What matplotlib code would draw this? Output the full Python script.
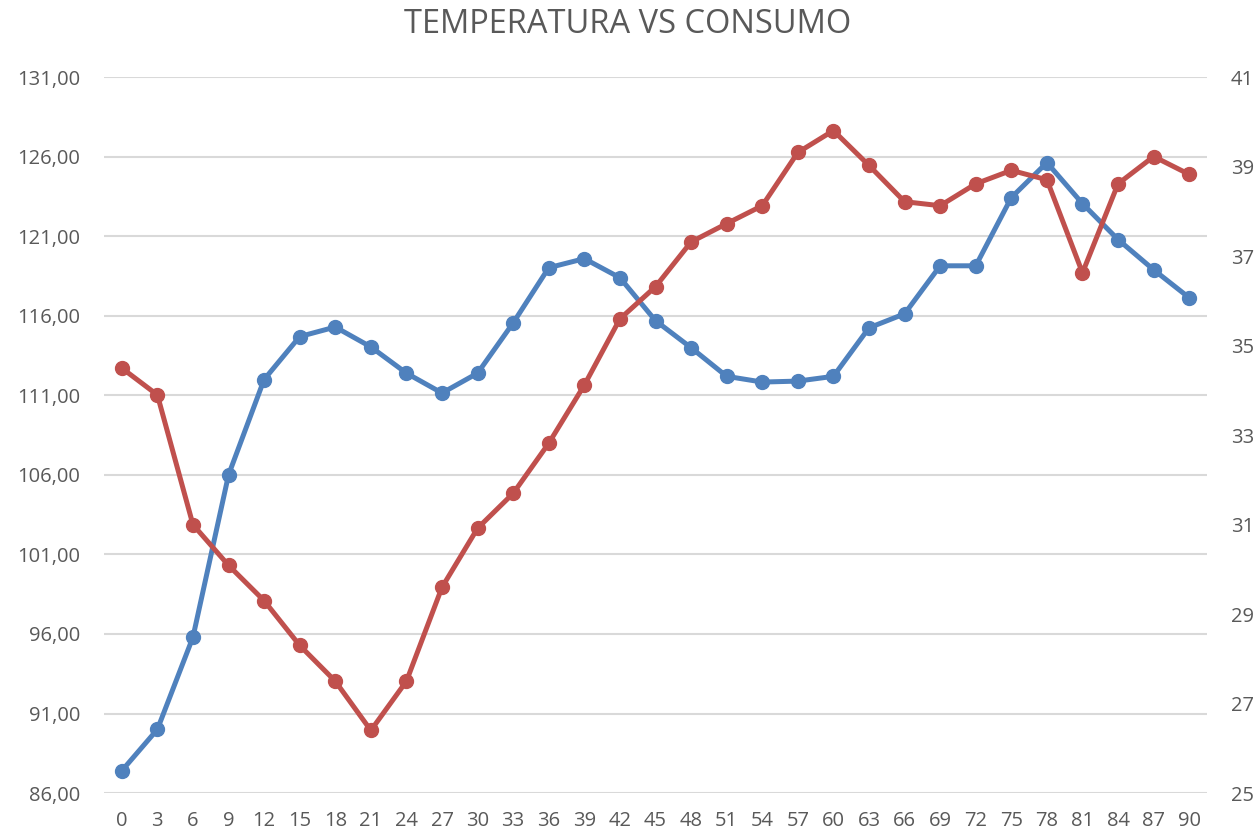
import matplotlib
matplotlib.use("Agg")
import matplotlib.pyplot as plt
import numpy as np

# minutos
minutos = list(range(0, 91, 3))

# consumo (eje izquierdo)
consumo = [87.4, 90.0, 95.8, 106.0, 112.0, 114.7, 115.3, 114.05, 112.4, 111.15,
           112.4, 115.56, 119.03, 119.6, 118.4, 115.7, 114.0, 112.2, 111.84, 111.9,
           112.2, 115.25, 116.13, 119.15, 119.15, 123.44, 125.64, 123.06, 120.8, 118.9,
           117.14]

# temperatura (eje derecho)
temperatura = [34.5, 33.9, 31.0, 30.09, 29.3, 28.3, 27.5, 26.4, 27.5, 29.6,
               30.92, 31.7, 32.82, 34.12, 35.6, 36.32, 37.32, 37.73, 38.13, 39.32,
               39.81, 39.03, 38.22, 38.13, 38.62, 38.92, 38.71, 36.63, 38.62, 39.23,
               38.83]

left_ticks = np.arange(86, 132, 5)
right_ticks = np.arange(25, 42, 2)

txt = '#595959'
plt.rcParams['font.family'] = ['Open Sans', 'DejaVu Sans']

fig = plt.figure(figsize=(12.56, 8.36), dpi=100)
ax = fig.add_axes([0.0828, 0.0514, 0.8782, 0.8561])
ax2 = ax.twinx()

x = np.arange(len(minutos))

ax.plot(x, consumo, color='#4F81BD', lw=3.6, marker='o', ms=10, zorder=3)
ax2.plot(x, temperatura, color='#C0504D', lw=3.6, marker='o', ms=10, zorder=3)

ax.set_xlim(-0.5, len(minutos) - 0.5)
ax.set_ylim(86, 131)
ax2.set_ylim(25, 41)

ax.set_yticks(left_ticks)
ax.set_yticklabels([f"{v:.2f}".replace('.', ',') for v in left_ticks])
ax2.set_yticks(right_ticks)
ax2.set_yticklabels([str(v) for v in right_ticks])
ax.set_xticks(x)
ax.set_xticklabels([str(m) for m in minutos])

ax.grid(axis='y', color='#D9D9D9', lw=1.5)
ax.set_axisbelow(True)

for a in (ax, ax2):
    for s in a.spines.values():
        s.set_visible(False)
ax.tick_params(axis='y', length=0, pad=17, labelsize=14.5, labelcolor=txt)
ax.tick_params(axis='x', length=0, pad=13, labelsize=14.5, labelcolor=txt)
ax2.tick_params(axis='y', length=0, pad=17, labelsize=14.5, labelcolor=txt)

fig.text(0.5, 0.971, 'TEMPERATURA VS CONSUMO', ha='center', va='center',
         fontsize=23.5, color=txt)

fig.savefig('out.png', dpi=100)
